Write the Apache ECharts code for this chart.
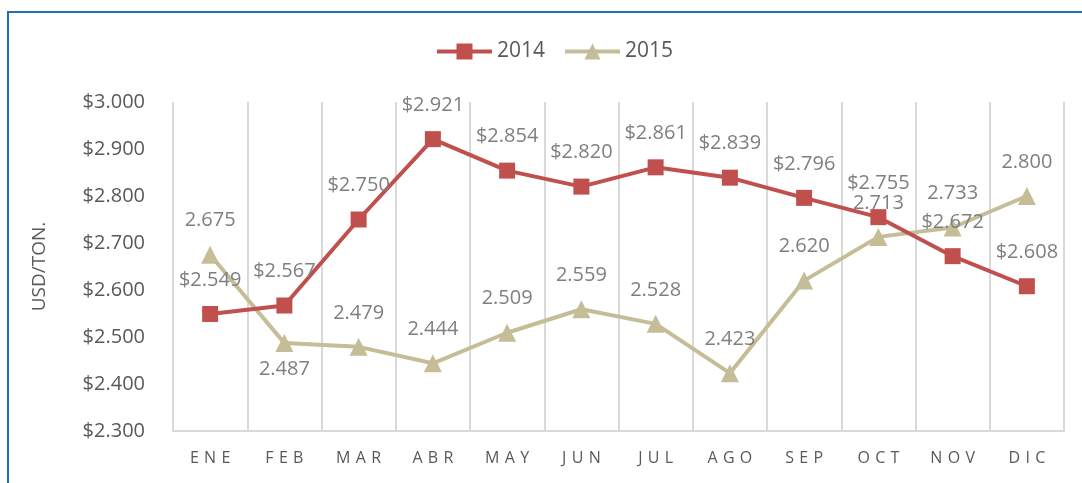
<!DOCTYPE html>
<html>
<head>
<meta charset="utf-8">
<script src="https://cdn.jsdelivr.net/npm/echarts@6/dist/echarts.min.js"></script>
<style>
  html, body { margin: 0; padding: 0; background: #fff; }
  #main { position: absolute; left: 0; top: 0; width: 1082px; height: 483px; }
  #frame {
    position: absolute; left: 7px; top: 11px; width: 1100px; height: 500px;
    border: 2px solid #1f6fbd; box-sizing: border-box; pointer-events: none;
  }
</style>
</head>
<body>
<div id="main"></div>
<div id="frame"></div>
<script>
// months (Spanish abbreviations)
var months = ["ENE", "FEB", "MAR", "ABR", "MAY", "JUN", "JUL", "AGO", "SEP", "OCT", "NOV", "DIC"];
// USD per ton
var values2014 = [2549, 2567, 2750, 2921, 2854, 2820, 2861, 2839, 2796, 2755, 2672, 2608];
var values2015 = [2675, 2487, 2479, 2444, 2509, 2559, 2528, 2423, 2620, 2713, 2733, 2800];
var yMin = 2300;
var yMax = 3000;
var yStep = 100;

function fmt(v) {
  return (v / 1000).toFixed(3);
}

var textColor = "#595959";
var labelColor = "#7f7f7f";
var font = "'Open Sans', 'DejaVu Sans', sans-serif";

var data2015 = values2015.map(function (v, i) {
  if (i === 1) {
    return { value: v, label: { position: "bottom", distance: 7 } };
  }
  return v;
});

var chart = echarts.init(document.getElementById("main"), null, { renderer: "canvas" });

var option = {
  animation: false,
  textStyle: { fontFamily: font },
  legend: {
    top: 36,
    left: 430,
    itemWidth: 55,
    itemHeight: 20,
    itemGap: 18,
    lineStyle: { width: 4 },
    textStyle: { fontSize: 21, color: textColor, fontFamily: font },
    data: ["2014", "2015"]
  },
  grid: { left: 173, right: 18, top: 102, bottom: 52 },
  xAxis: {
    type: "category",
    data: months,
    boundaryGap: true,
    axisLine: { show: true, lineStyle: { color: "#d9d9d9", width: 2 } },
    axisTick: { show: false },
    splitLine: { show: true, lineStyle: { color: "#d9d9d9", width: 2 } },
    axisLabel: {
      margin: 19,
      fontSize: 16,
      color: textColor,
      fontFamily: font,
      formatter: function (v) { return v.split("").join("\u2009\u2009"); }
    }
  },
  yAxis: {
    type: "value",
    min: yMin,
    max: yMax,
    interval: yStep,
    name: "USD/TON.",
    nameLocation: "middle",
    nameGap: 124,
    nameTextStyle: { fontSize: 19, color: textColor, fontFamily: font },
    axisLine: { show: false },
    axisTick: { show: false },
    splitLine: { show: false },
    axisLabel: {
      margin: 28,
      fontSize: 20,
      color: textColor,
      fontFamily: font,
      formatter: function (v) { return "$" + fmt(v); }
    }
  },
  series: [
    {
      name: "2014",
      type: "line",
      data: values2014,
      symbol: "rect",
      symbolSize: 16,
      lineStyle: { color: "#c0504d", width: 4 },
      itemStyle: { color: "#c0504d" },
      z: 3,
      label: {
        show: true,
        position: "top",
        distance: 16,
        fontSize: 20,
        color: labelColor,
        fontFamily: font,
        formatter: function (p) { return "$" + fmt(p.value); }
      }
    },
    {
      name: "2015",
      type: "line",
      data: data2015,
      symbol: "triangle",
      symbolSize: 18,
      lineStyle: { color: "#c4bd97", width: 4 },
      itemStyle: { color: "#c4bd97" },
      z: 2,
      label: {
        show: true,
        position: "top",
        distance: 15,
        fontSize: 20,
        color: labelColor,
        fontFamily: font,
        formatter: function (p) { return fmt(p.value); }
      }
    }
  ]
};

chart.setOption(option);
</script>
</body>
</html>
